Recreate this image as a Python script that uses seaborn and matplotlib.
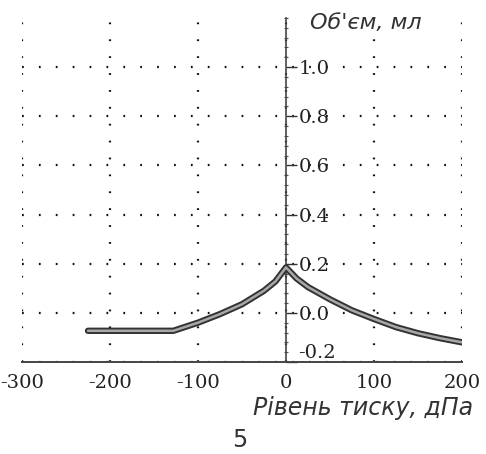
import matplotlib
matplotlib.use("Agg")
import matplotlib.pyplot as plt
from matplotlib.ticker import MultipleLocator
import pandas as pd
import seaborn as sns

# tympanogram curve
pressure = [-225, -128, -100, -75, -50, -25, -12, 0, 12, 25, 50, 75, 100, 125, 150, 175, 200]
volume = [-0.073, -0.073, -0.04, -0.005, 0.035, 0.09, 0.128, 0.185, 0.14, 0.105, 0.055,
          0.01, -0.025, -0.058, -0.083, -0.103, -0.12]

x_ticks = [-300, -200, -100, 0, 100, 200]
y_ticks = [-0.2, 0.0, 0.2, 0.4, 0.6, 0.8, 1.0]
y_labels = ["-0.2", "0.0", "0.2", "0.4", "0.6", "0.8", "1.0"]

df = pd.DataFrame({"pressure": pressure, "volume": volume})

sns.set_style("white")
plt.rcParams["font.family"] = ["DejaVu Sans"]
plt.rcParams["axes.unicode_minus"] = False

fig = plt.figure(figsize=(4.86, 4.54), dpi=100)
ax = fig.add_axes([22 / 486, 1 - 362 / 454, 440 / 486, 344 / 454])

# scanned look: dark outline, grey core
sns.lineplot(data=df, x="pressure", y="volume", sort=False, ax=ax,
             color="#333333", linewidth=4.6, zorder=3)
sns.lineplot(data=df, x="pressure", y="volume", sort=False, ax=ax,
             color="#a8a8a8", linewidth=1.8, zorder=4)

ax.set_xlim(-300, 200)
ax.set_ylim(-0.2, 1.2)

ax.spines["top"].set_visible(False)
ax.spines["left"].set_visible(False)
ax.spines["right"].set_position(("data", 0))
ax.spines["right"].set_color("#444444")
ax.spines["right"].set_linewidth(1.2)
ax.spines["bottom"].set_color("#444444")
ax.spines["bottom"].set_linewidth(1.4)

ax.yaxis.tick_right()
ax.set_xticks(x_ticks)
ax.set_yticks(y_ticks)
ax.set_yticklabels(y_labels)
ax.xaxis.set_minor_locator(MultipleLocator(10))
ax.yaxis.set_minor_locator(MultipleLocator(0.04))

ax.tick_params(axis="x", which="major", direction="inout", length=7, width=1,
               color="#333333", pad=5, labelsize=14, labelcolor="#222222")
ax.tick_params(axis="x", which="minor", direction="inout", length=3, width=0.8,
               color="#555555")
ax.tick_params(axis="y", which="major", direction="out", length=8, width=1,
               color="#333333", pad=1, labelsize=14, labelcolor="#222222")
ax.tick_params(axis="y", which="minor", direction="inout", length=3, width=0.8,
               color="#555555")
for lab in ax.get_xticklabels() + ax.get_yticklabels():
    lab.set_family("DejaVu Serif")
ax.get_yticklabels()[0].set_va("bottom")

ax.grid(True, which="major", color="#111111", linewidth=1.6,
        linestyle=(0, (0.8, 6.8)))

ax.set_xlabel("Рівень тиску, дПа", style="italic", fontsize=17,
              color="#333333", ha="right", va="top")
ax.xaxis.set_label_coords(1.025, -0.1)
ax.set_ylabel("")
ax.text(0.655, 0.985, "Об'єм, мл", transform=ax.transAxes, style="italic",
        fontsize=16, color="#333333", ha="left", va="center", zorder=5,
        bbox=dict(facecolor="white", edgecolor="none", pad=1))

fig.text(240 / 486, 1 - 440 / 454, "5", ha="center", va="center",
         fontsize=17, color="#333333")

fig.savefig("out.png", dpi=100)
